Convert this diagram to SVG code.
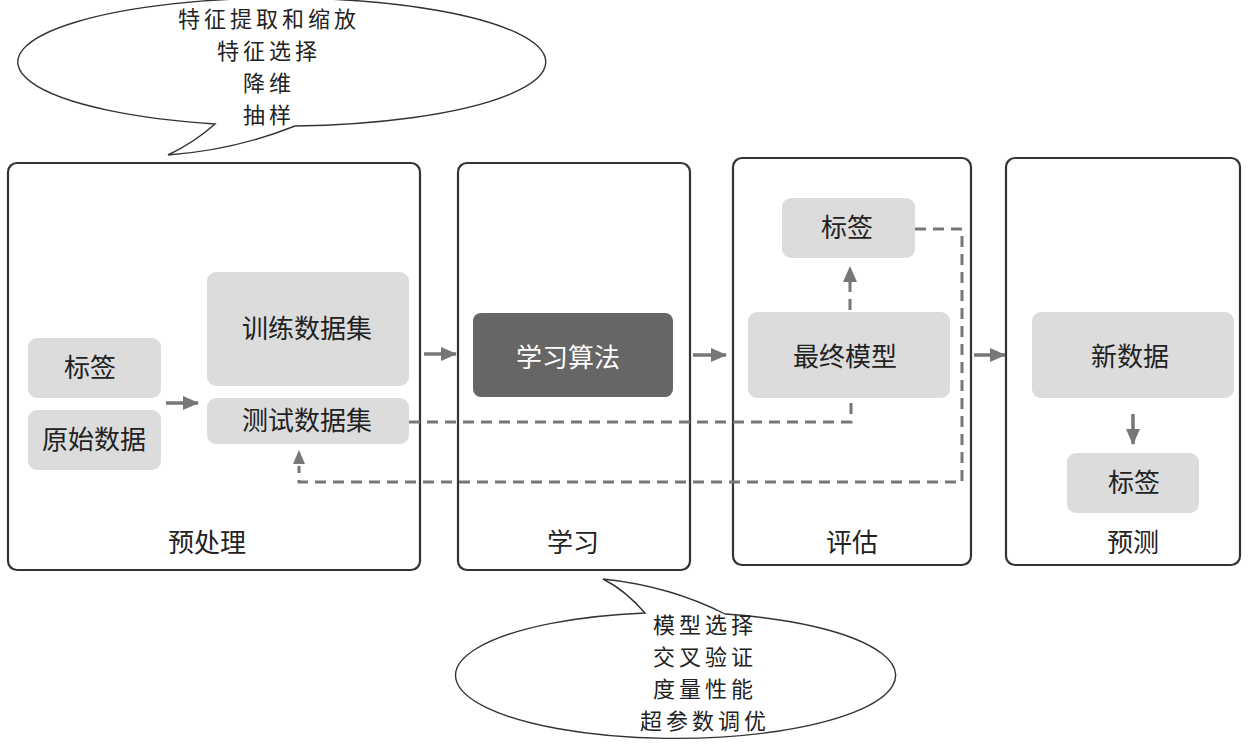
<svg xmlns="http://www.w3.org/2000/svg" width="1248" height="744" viewBox="0 0 1248 744">
<defs>
<style>
text{font-family:"Noto Sans CJK SC","Noto Sans",sans-serif;fill:#222;text-anchor:middle}
.panel{fill:#fff;stroke:#333;stroke-width:2.2}
.box{fill:#dcdcdc}
.dark{fill:#666}
.t{font-size:26px}
.b{font-size:22px;letter-spacing:4px}
.arrow{stroke:#777;stroke-width:3.5;fill:none;marker-end:url(#ah)}
.dash{stroke:#777;stroke-width:3;fill:none;stroke-dasharray:11 7}
.bubble{fill:#fff;stroke:#333;stroke-width:1.4}
</style>
<marker id="ah" markerUnits="userSpaceOnUse" markerWidth="16" markerHeight="14" refX="15" refY="7" orient="auto">
<path d="M0,0 L16,7 L0,14 Z" fill="#777"/>
</marker>
</defs>

<g id="bubble-top">
<path class="bubble" d="M215,124 Q195,142 168,155 Q235,150 295,126 A264,64 0 1 0 215,124 Z"/>
<text class="b"><tspan x="269" y="27">特征提取和缩放</tspan><tspan x="269" y="59">特征选择</tspan><tspan x="269" y="91">降维</tspan><tspan x="269" y="123">抽样</tspan></text>
</g>

<g id="panel-preprocess">
<rect class="panel" x="8" y="163" width="412" height="407" rx="9"/>
<text class="t" x="207" y="552">预处理</text>
</g>
<g id="panel-learn">
<rect class="panel" x="458" y="163" width="232" height="407" rx="9"/>
<text class="t" x="573" y="552">学习</text>
</g>
<g id="panel-eval">
<rect class="panel" x="733" y="158" width="238" height="407" rx="9"/>
<text class="t" x="852" y="552">评估</text>
</g>
<g id="panel-predict">
<rect class="panel" x="1006" y="158" width="234" height="407" rx="9"/>
<text class="t" x="1133" y="552">预测</text>
</g>

<g id="node-label1">
<rect class="box" x="28" y="338" width="133" height="60" rx="9"/>
<text class="t" x="90" y="377">标签</text>
</g>
<g id="node-raw">
<rect class="box" x="28" y="410" width="133" height="60" rx="9"/>
<text class="t" x="94" y="449">原始数据</text>
</g>
<g id="node-train">
<rect class="box" x="207" y="272" width="202" height="114" rx="9"/>
<text class="t" x="307" y="338">训练数据集</text>
</g>
<g id="node-test">
<rect class="box" x="207" y="398" width="202" height="46" rx="9"/>
<text class="t" x="307" y="430">测试数据集</text>
</g>
<g id="node-algo">
<rect class="dark" x="473" y="313" width="200" height="84" rx="8"/>
<text class="t" x="568" y="367" style="fill:#fff">学习算法</text>
</g>
<g id="node-label2">
<rect class="box" x="782" y="198" width="133" height="60" rx="9"/>
<text class="t" x="847" y="237">标签</text>
</g>
<g id="node-model">
<rect class="box" x="748" y="312" width="202" height="86" rx="9"/>
<text class="t" x="845" y="366">最终模型</text>
</g>
<g id="node-new">
<rect class="box" x="1032" y="312" width="202" height="86" rx="9"/>
<text class="t" x="1130" y="366">新数据</text>
</g>
<g id="node-label3">
<rect class="box" x="1067" y="453" width="132" height="60" rx="9"/>
<text class="t" x="1134" y="492">标签</text>
</g>

<g id="connectors">
<line class="arrow" x1="166" y1="403" x2="198" y2="403"/>
<line class="arrow" x1="424" y1="354" x2="456" y2="354"/>
<line class="arrow" x1="693" y1="355" x2="726" y2="355"/>
<line class="arrow" x1="974" y1="355" x2="1005" y2="355"/>
<line class="arrow" x1="1133" y1="414" x2="1133" y2="444"/>
<path class="dash" d="M850,310 V280"/>
<path d="M843,282 L850,266 L857,282 Z" fill="#777"/>
<path class="dash" d="M409,422 H851 V402"/>
<path class="dash" d="M915,229 H962 V482 H299 V466"/>
<path d="M293,464 L299,450 L305,464 Z" fill="#777"/>
</g>

<g id="bubble-bottom">
<path class="bubble" d="M645,613 Q625,590 603,579 Q670,586 725,614 A220,63 0 1 1 645,613 Z"/>
<text class="b"><tspan x="705" y="633">模型选择</tspan><tspan x="705" y="665">交叉验证</tspan><tspan x="705" y="697">度量性能</tspan><tspan x="705" y="729">超参数调优</tspan></text>
</g>
</svg>
